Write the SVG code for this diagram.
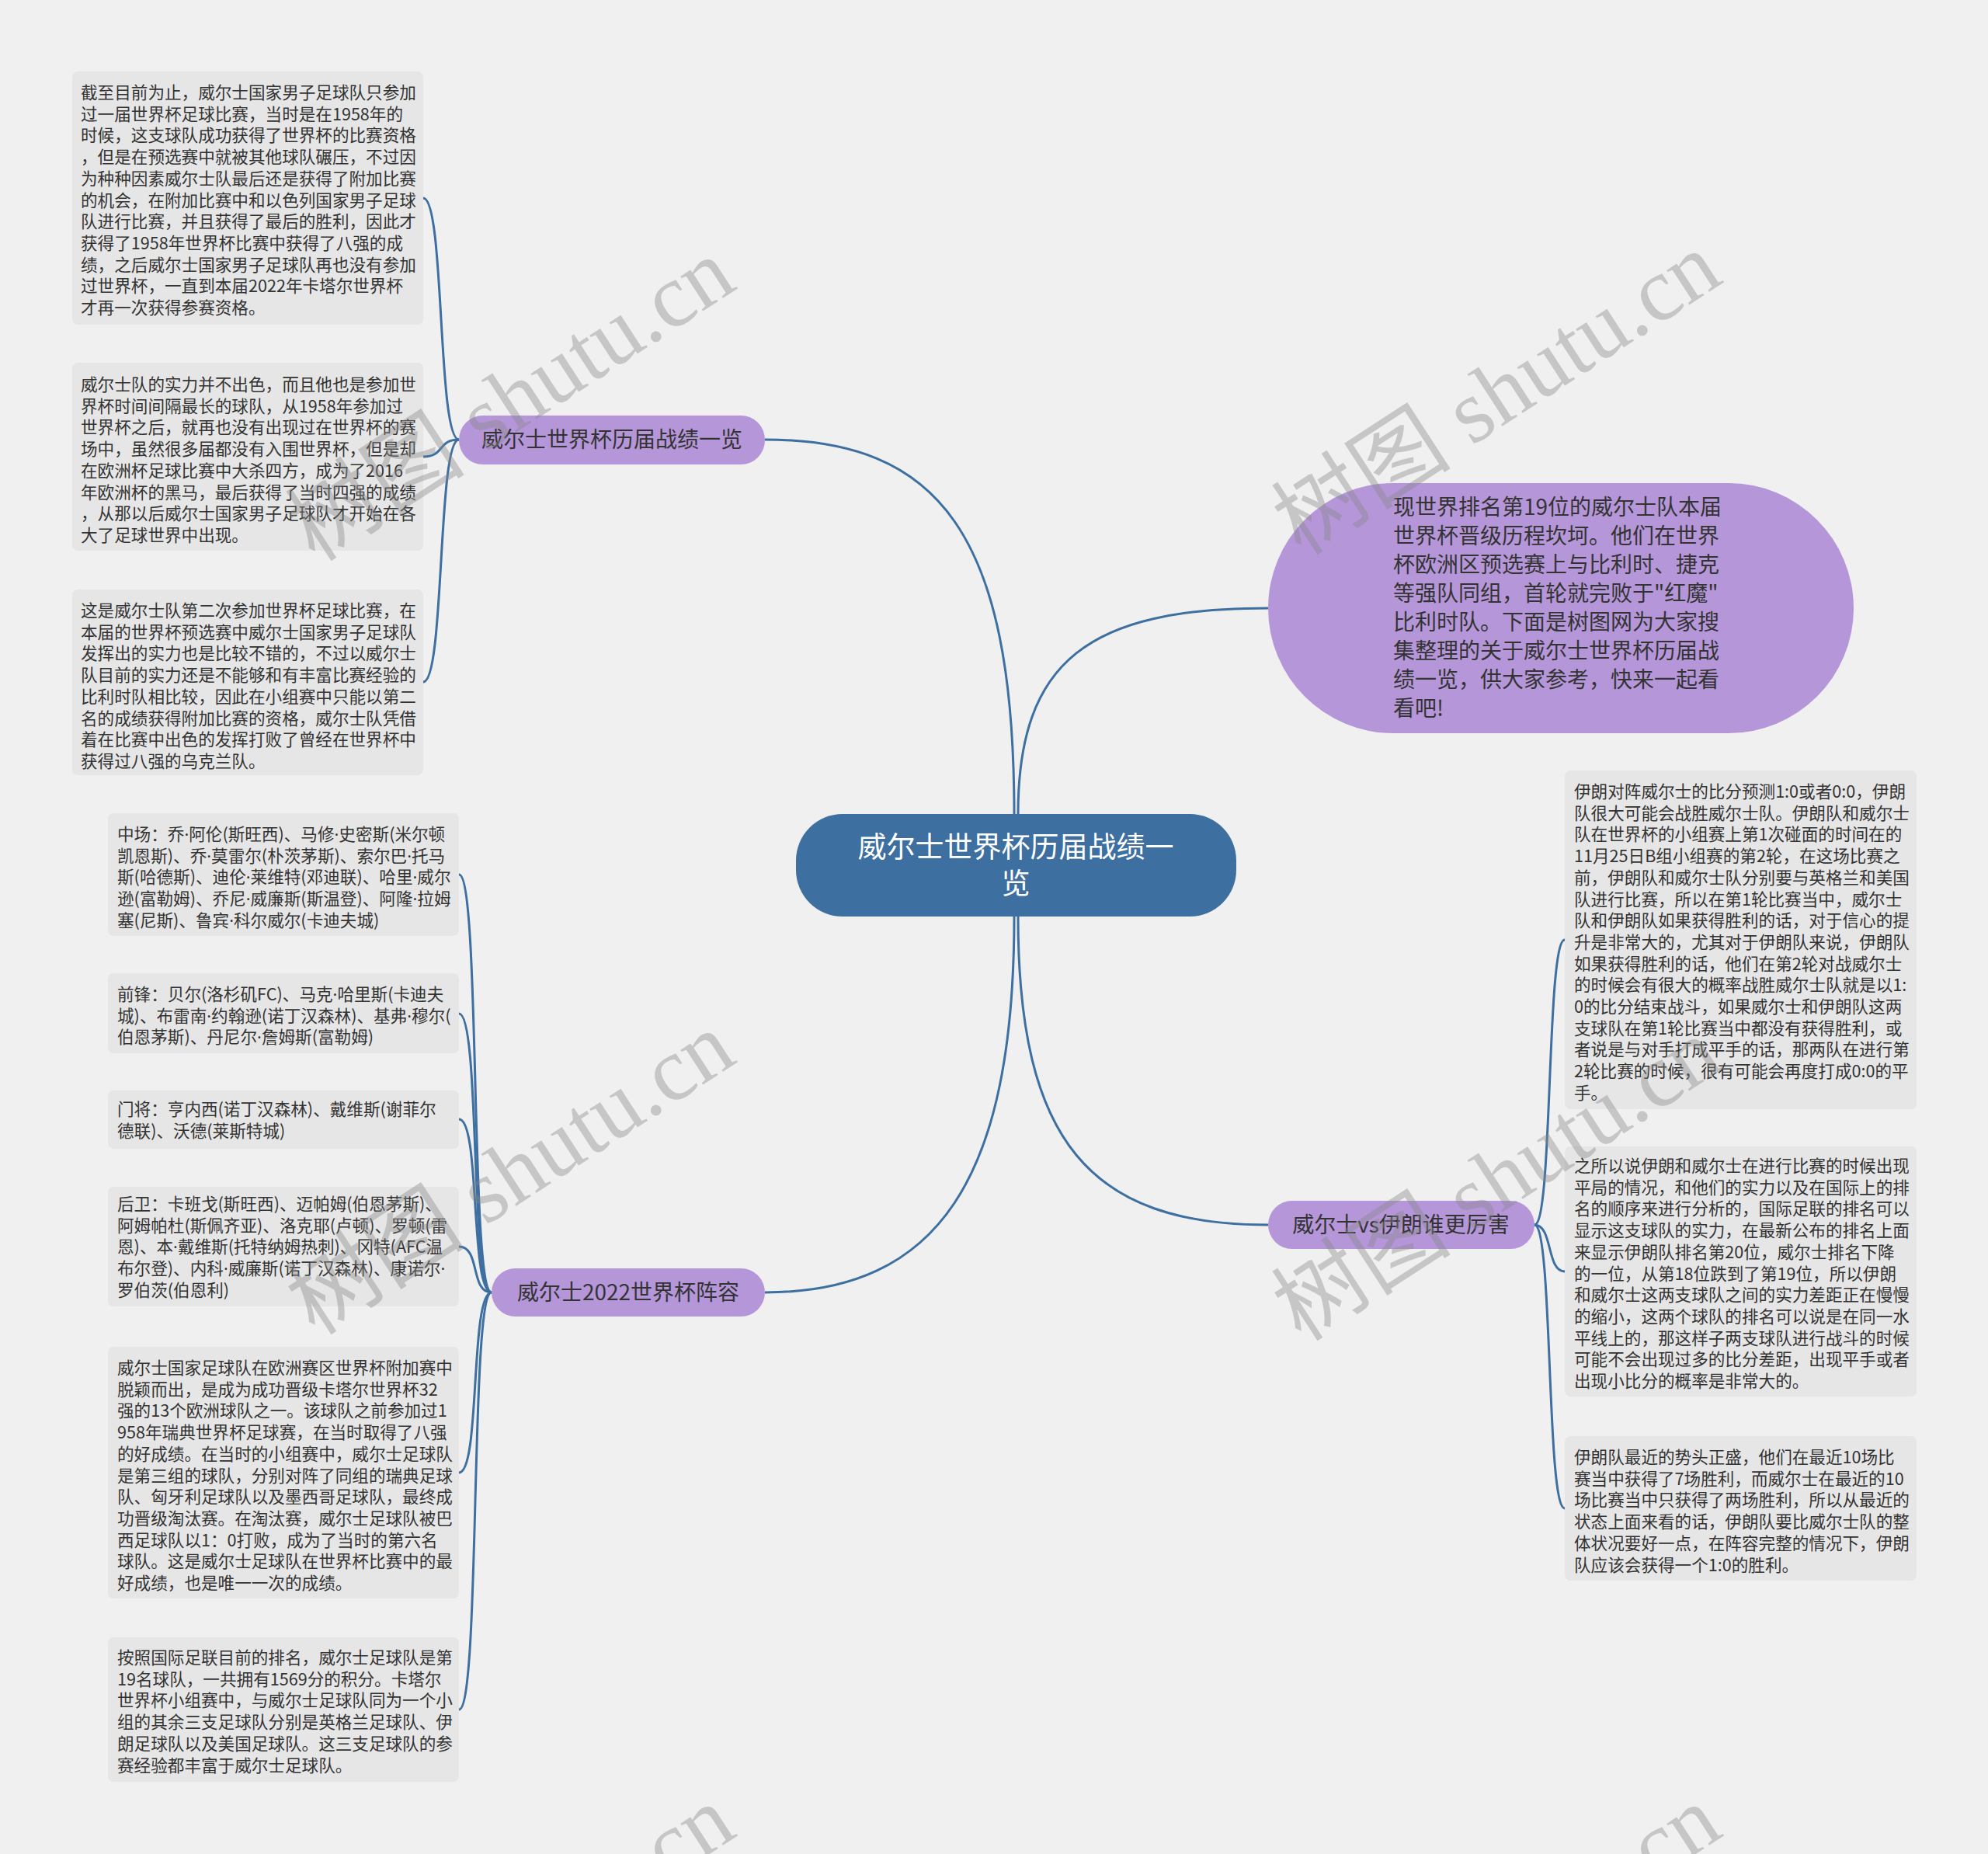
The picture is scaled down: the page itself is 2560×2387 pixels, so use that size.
<svg xmlns="http://www.w3.org/2000/svg" width="2560" height="2387" viewBox="0 0 2560 2387">
<style>
.box{fill:#e6e6e6}
.t{font-family:"Noto Sans CJK SC","Noto Sans",sans-serif;font-size:21.6px;fill:#333}
.d{font-family:"Noto Sans","Liberation Sans",sans-serif}
.br{fill:#b596d9}
.bt{font-family:"Noto Sans CJK SC","Noto Sans",sans-serif;font-size:28px;fill:#333;text-anchor:middle}
.conn{fill:none;stroke:#3d6fa0;stroke-width:3}
.wm{font-family:"Liberation Serif","Noto Sans CJK SC",serif;font-size:116px;fill:#888;opacity:0.4;text-anchor:middle}
</style>
<rect x="0" y="0" width="2560" height="2387" fill="#f0f0f0"/>
<g id="connectors">
<path class="conn" d="M1306,1048 C1306,686 1208,566 985,566"/>
<path class="conn" d="M1311,1048 C1311,849 1404,783 1633,783"/>
<path class="conn" d="M1306,1180 C1306,1518 1208,1664 985,1664"/>
<path class="conn" d="M1311,1180 C1311,1470 1404,1577 1633,1577"/>
<path class="conn" d="M591,566 C563,566 573,255 545,255"/>
<path class="conn" d="M591,566 C563,566 573,588 545,588"/>
<path class="conn" d="M591,566 C563,566 573,878 545,878"/>
<path class="conn" d="M633,1664 C605,1664 619,1126 591,1126"/>
<path class="conn" d="M633,1664 C605,1664 619,1305 591,1305"/>
<path class="conn" d="M633,1664 C605,1664 619,1441 591,1441"/>
<path class="conn" d="M633,1664 C605,1664 619,1605 591,1605"/>
<path class="conn" d="M633,1664 C605,1664 619,1896 591,1896"/>
<path class="conn" d="M633,1664 C605,1664 619,2201 591,2201"/>
<path class="conn" d="M1976,1577 C2000,1577 1991,1210 2015,1210"/>
<path class="conn" d="M1976,1577 C2000,1577 1991,1637 2015,1637"/>
<path class="conn" d="M1976,1577 C2000,1577 1991,1942 2015,1942"/>
</g>
<g id="center">
<rect x="1025" y="1048" width="567" height="132" rx="60" fill="#3d6fa0"/>
<text font-family="Noto Sans CJK SC,sans-serif" font-size="37" fill="#fff" text-anchor="middle"><tspan x="1308" y="1104">威尔士世界杯历届战绩一</tspan><tspan x="1308" y="1151">览</tspan></text>
</g>
<g id="intro">
<rect x="1633" y="622" width="754" height="322" rx="161" class="br"/>
<text class="t" style="font-size:28px" x="1794" y="663">现世界排名第19位的威尔士队本届</text>
<text class="t" style="font-size:28px" x="1794" y="700">世界杯晋级历程坎坷。他们在世界</text>
<text class="t" style="font-size:28px" x="1794" y="737">杯欧洲区预选赛上与比利时、捷克</text>
<text class="t" style="font-size:28px" x="1794" y="774">等强队同组，首轮就完败于"红魔"</text>
<text class="t" style="font-size:28px" x="1794" y="811">比利时队。下面是树图网为大家搜</text>
<text class="t" style="font-size:28px" x="1794" y="848">集整理的关于威尔士世界杯历届战</text>
<text class="t" style="font-size:28px" x="1794" y="885">绩一览，供大家参考，快来一起看</text>
<text class="t" style="font-size:28px" x="1794" y="922">看吧!</text>
</g>
<g id="branch1">
<rect x="591" y="535" width="394" height="63" rx="31" class="br"/>
<text class="bt" x="788" y="576">威尔士世界杯历届战绩一览</text>
</g>
<g id="branch2">
<rect x="633" y="1633" width="352" height="62" rx="31" class="br"/>
<text class="bt" x="809" y="1674">威尔士2022世界杯阵容</text>
</g>
<g id="branch3">
<rect x="1633" y="1546" width="343" height="62" rx="31" class="br"/>
<text class="bt" x="1804" y="1587">威尔士vs伊朗谁更厉害</text>
</g>
<g id="box1">
<rect class="box" x="93" y="92" width="452" height="326" rx="7"/>
<text class="t" x="104" y="127">截至目前为止，威尔士国家男子足球队只参加</text>
<text class="t" x="104" y="154.7">过一届世界杯足球比赛，当时是在1958年的</text>
<text class="t" x="104" y="182.4">时候，这支球队成功获得了世界杯的比赛资格</text>
<text class="t" x="104" y="210.1">，但是在预选赛中就被其他球队碾压，不过因</text>
<text class="t" x="104" y="237.8">为种种因素威尔士队最后还是获得了附加比赛</text>
<text class="t" x="104" y="265.5">的机会，在附加比赛中和以色列国家男子足球</text>
<text class="t" x="104" y="293.2">队进行比赛，并且获得了最后的胜利，因此才</text>
<text class="t" x="104" y="320.9">获得了1958年世界杯比赛中获得了八强的成</text>
<text class="t" x="104" y="348.6">绩，之后威尔士国家男子足球队再也没有参加</text>
<text class="t" x="104" y="376.3">过世界杯，一直到本届2022年卡塔尔世界杯</text>
<text class="t" x="104" y="404">才再一次获得参赛资格。</text>
</g>
<g id="box2">
<rect class="box" x="93" y="467" width="452" height="242" rx="7"/>
<text class="t" x="104" y="503">威尔士队的实力并不出色，而且他也是参加世</text>
<text class="t" x="104" y="530.7">界杯时间间隔最长的球队，从1958年参加过</text>
<text class="t" x="104" y="558.4">世界杯之后，就再也没有出现过在世界杯的赛</text>
<text class="t" x="104" y="586.1">场中，虽然很多届都没有入围世界杯，但是却</text>
<text class="t" x="104" y="613.8">在欧洲杯足球比赛中大杀四方，成为了2016</text>
<text class="t" x="104" y="641.5">年欧洲杯的黑马，最后获得了当时四强的成绩</text>
<text class="t" x="104" y="669.2">，从那以后威尔士国家男子足球队才开始在各</text>
<text class="t" x="104" y="696.9">大了足球世界中出现。</text>
</g>
<g id="box3">
<rect class="box" x="93" y="759" width="452" height="239" rx="7"/>
<text class="t" x="104" y="794">这是威尔士队第二次参加世界杯足球比赛，在</text>
<text class="t" x="104" y="821.7">本届的世界杯预选赛中威尔士国家男子足球队</text>
<text class="t" x="104" y="849.4">发挥出的实力也是比较不错的，不过以威尔士</text>
<text class="t" x="104" y="877.1">队目前的实力还是不能够和有丰富比赛经验的</text>
<text class="t" x="104" y="904.8">比利时队相比较，因此在小组赛中只能以第二</text>
<text class="t" x="104" y="932.5">名的成绩获得附加比赛的资格，威尔士队凭借</text>
<text class="t" x="104" y="960.2">着在比赛中出色的发挥打败了曾经在世界杯中</text>
<text class="t" x="104" y="987.9">获得过八强的乌克兰队。</text>
</g>
<g id="box4">
<rect class="box" x="139" y="1047" width="452" height="158" rx="7"/>
<text class="t" x="151" y="1082">中场：乔<tspan class="d">·</tspan>阿伦(斯旺西)、马修<tspan class="d">·</tspan>史密斯(米尔顿</text>
<text class="t" x="151" y="1109.7">凯恩斯)、乔<tspan class="d">·</tspan>莫雷尔(朴茨茅斯)、索尔巴<tspan class="d">·</tspan>托马</text>
<text class="t" x="151" y="1137.4">斯(哈德斯)、迪伦<tspan class="d">·</tspan>莱维特(邓迪联)、哈里<tspan class="d">·</tspan>威尔</text>
<text class="t" x="151" y="1165.1">逊(富勒姆)、乔尼<tspan class="d">·</tspan>威廉斯(斯温登)、阿隆<tspan class="d">·</tspan>拉姆</text>
<text class="t" x="151" y="1192.8">塞(尼斯)、鲁宾<tspan class="d">·</tspan>科尔威尔(卡迪夫城)</text>
</g>
<g id="box5">
<rect class="box" x="139" y="1253" width="452" height="103" rx="7"/>
<text class="t" x="151" y="1288">前锋：贝尔(洛杉矶FC)、马克<tspan class="d">·</tspan>哈里斯(卡迪夫</text>
<text class="t" x="151" y="1315.7">城)、布雷南<tspan class="d">·</tspan>约翰逊(诺丁汉森林)、基弗<tspan class="d">·</tspan>穆尔(</text>
<text class="t" x="151" y="1343.4">伯恩茅斯)、丹尼尔<tspan class="d">·</tspan>詹姆斯(富勒姆)</text>
</g>
<g id="box6">
<rect class="box" x="139" y="1404" width="452" height="75" rx="7"/>
<text class="t" x="151" y="1436">门将：亨内西(诺丁汉森林)、戴维斯(谢菲尔</text>
<text class="t" x="151" y="1463.7">德联)、沃德(莱斯特城)</text>
</g>
<g id="box7">
<rect class="box" x="139" y="1528" width="452" height="154" rx="7"/>
<text class="t" x="151" y="1558">后卫：卡班戈(斯旺西)、迈帕姆(伯恩茅斯)、</text>
<text class="t" x="151" y="1585.7">阿姆帕杜(斯佩齐亚)、洛克耶(卢顿)、罗顿(雷</text>
<text class="t" x="151" y="1613.4">恩)、本<tspan class="d">·</tspan>戴维斯(托特纳姆热刺)、冈特(AFC温</text>
<text class="t" x="151" y="1641.1">布尔登)、内科<tspan class="d">·</tspan>威廉斯(诺丁汉森林)、康诺尔<tspan class="d">·</tspan></text>
<text class="t" x="151" y="1668.8">罗伯茨(伯恩利)</text>
</g>
<g id="box8">
<rect class="box" x="139" y="1734" width="452" height="324" rx="7"/>
<text class="t" x="151" y="1769">威尔士国家足球队在欧洲赛区世界杯附加赛中</text>
<text class="t" x="151" y="1796.7">脱颖而出，是成为成功晋级卡塔尔世界杯32</text>
<text class="t" x="151" y="1824.4">强的13个欧洲球队之一。该球队之前参加过1</text>
<text class="t" x="151" y="1852.1">958年瑞典世界杯足球赛，在当时取得了八强</text>
<text class="t" x="151" y="1879.8">的好成绩。在当时的小组赛中，威尔士足球队</text>
<text class="t" x="151" y="1907.5">是第三组的球队，分别对阵了同组的瑞典足球</text>
<text class="t" x="151" y="1935.2">队、匈牙利足球队以及墨西哥足球队，最终成</text>
<text class="t" x="151" y="1962.9">功晋级淘汰赛。在淘汰赛，威尔士足球队被巴</text>
<text class="t" x="151" y="1990.6">西足球队以1：0打败，成为了当时的第六名</text>
<text class="t" x="151" y="2018.3">球队。这是威尔士足球队在世界杯比赛中的最</text>
<text class="t" x="151" y="2046">好成绩，也是唯一一次的成绩。</text>
</g>
<g id="box9">
<rect class="box" x="139" y="2108" width="452" height="186" rx="7"/>
<text class="t" x="151" y="2142">按照国际足联目前的排名，威尔士足球队是第</text>
<text class="t" x="151" y="2169.7">19名球队，一共拥有1569分的积分。卡塔尔</text>
<text class="t" x="151" y="2197.4">世界杯小组赛中，与威尔士足球队同为一个小</text>
<text class="t" x="151" y="2225.1">组的其余三支足球队分别是英格兰足球队、伊</text>
<text class="t" x="151" y="2252.8">朗足球队以及美国足球队。这三支足球队的参</text>
<text class="t" x="151" y="2280.5">赛经验都丰富于威尔士足球队。</text>
</g>
<g id="box10">
<rect class="box" x="2015" y="992" width="453" height="436" rx="7"/>
<text class="t" x="2027" y="1027">伊朗对阵威尔士的比分预测1:0或者0:0，伊朗</text>
<text class="t" x="2027" y="1054.7">队很大可能会战胜威尔士队。伊朗队和威尔士</text>
<text class="t" x="2027" y="1082.4">队在世界杯的小组赛上第1次碰面的时间在的</text>
<text class="t" x="2027" y="1110.1">11月25日B组小组赛的第2轮，在这场比赛之</text>
<text class="t" x="2027" y="1137.8">前，伊朗队和威尔士队分别要与英格兰和美国</text>
<text class="t" x="2027" y="1165.5">队进行比赛，所以在第1轮比赛当中，威尔士</text>
<text class="t" x="2027" y="1193.2">队和伊朗队如果获得胜利的话，对于信心的提</text>
<text class="t" x="2027" y="1220.9">升是非常大的，尤其对于伊朗队来说，伊朗队</text>
<text class="t" x="2027" y="1248.6">如果获得胜利的话，他们在第2轮对战威尔士</text>
<text class="t" x="2027" y="1276.3">的时候会有很大的概率战胜威尔士队就是以1:</text>
<text class="t" x="2027" y="1304">0的比分结束战斗，如果威尔士和伊朗队这两</text>
<text class="t" x="2027" y="1331.7">支球队在第1轮比赛当中都没有获得胜利，或</text>
<text class="t" x="2027" y="1359.4">者说是与对手打成平手的话，那两队在进行第</text>
<text class="t" x="2027" y="1387.1">2轮比赛的时候，很有可能会再度打成0:0的平</text>
<text class="t" x="2027" y="1414.8">手。</text>
</g>
<g id="box11">
<rect class="box" x="2015" y="1476" width="453" height="322" rx="7"/>
<text class="t" x="2027" y="1509">之所以说伊朗和威尔士在进行比赛的时候出现</text>
<text class="t" x="2027" y="1536.7">平局的情况，和他们的实力以及在国际上的排</text>
<text class="t" x="2027" y="1564.4">名的顺序来进行分析的，国际足联的排名可以</text>
<text class="t" x="2027" y="1592.1">显示这支球队的实力，在最新公布的排名上面</text>
<text class="t" x="2027" y="1619.8">来显示伊朗队排名第20位，威尔士排名下降</text>
<text class="t" x="2027" y="1647.5">的一位，从第18位跌到了第19位，所以伊朗</text>
<text class="t" x="2027" y="1675.2">和威尔士这两支球队之间的实力差距正在慢慢</text>
<text class="t" x="2027" y="1702.9">的缩小，这两个球队的排名可以说是在同一水</text>
<text class="t" x="2027" y="1730.6">平线上的，那这样子两支球队进行战斗的时候</text>
<text class="t" x="2027" y="1758.3">可能不会出现过多的比分差距，出现平手或者</text>
<text class="t" x="2027" y="1786">出现小比分的概率是非常大的。</text>
</g>
<g id="box12">
<rect class="box" x="2015" y="1849" width="453" height="186" rx="7"/>
<text class="t" x="2027" y="1884">伊朗队最近的势头正盛，他们在最近10场比</text>
<text class="t" x="2027" y="1911.7">赛当中获得了7场胜利，而威尔士在最近的10</text>
<text class="t" x="2027" y="1939.4">场比赛当中只获得了两场胜利，所以从最近的</text>
<text class="t" x="2027" y="1967.1">状态上面来看的话，伊朗队要比威尔士队的整</text>
<text class="t" x="2027" y="1994.8">体状况要好一点，在阵容完整的情况下，伊朗</text>
<text class="t" x="2027" y="2022.5">队应该会获得一个1:0的胜利。</text>
</g>
<g id="watermarks">
<text class="wm" transform="translate(657,514) rotate(-33)" y="40">树图 shutu.cn</text>
<text class="wm" transform="translate(1927,506) rotate(-33)" y="40">树图 shutu.cn</text>
<text class="wm" transform="translate(657,1510) rotate(-33)" y="40">树图 shutu.cn</text>
<text class="wm" transform="translate(1927,1518) rotate(-33)" y="40">树图 shutu.cn</text>
<text class="wm" transform="translate(657,2506) rotate(-33)" y="40">树图 shutu.cn</text>
<text class="wm" transform="translate(1927,2506) rotate(-33)" y="40">树图 shutu.cn</text>
</g>
</svg>
